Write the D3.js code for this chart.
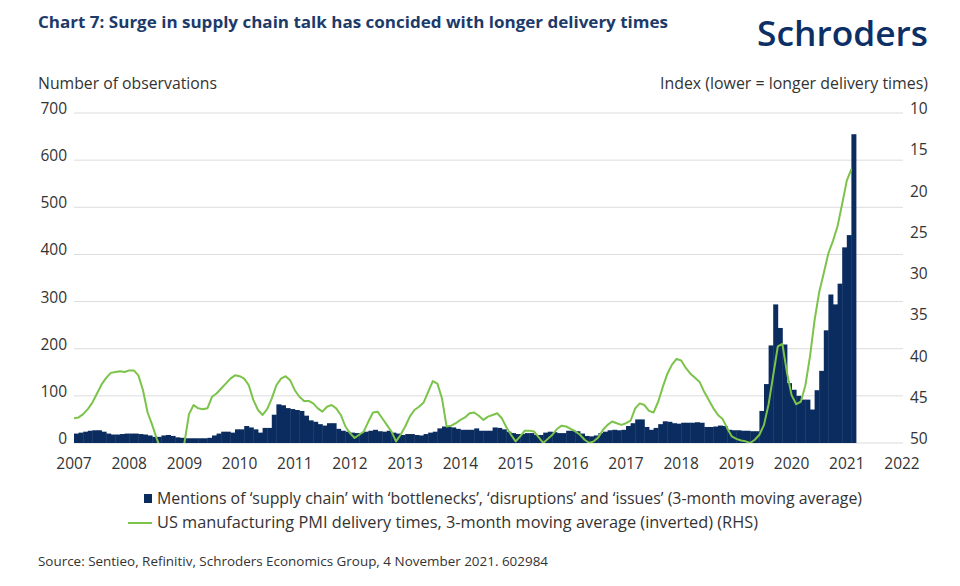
<!DOCTYPE html>
<html>
<head>
<meta charset="utf-8">
<script src="https://cdn.jsdelivr.net/npm/d3@7"></script>
<style>
  body { margin: 0; background: #ffffff; }
  svg { display: block; font-family: 'Open Sans', 'Noto Sans', sans-serif; }
</style>
</head>
<body>
<svg id="chart" width="960" height="586"></svg>
<script>
// Monthly data, Jan 2007 .. Feb 2021
const startYear = 2007;

// Mentions of 'supply chain' with bottlenecks/disruptions/issues (3m avg), LHS
const mentions = [
  20, 22, 24, 26, 27, 27, 24, 20, 18, 18, 19, 20,      // 2007
  20, 20, 19, 18, 16, 13, 13, 16, 17, 15, 12, 11,      // 2008
  10, 10, 10, 10, 10, 11, 16, 20, 24, 24, 22, 29,      // 2009
  29, 36, 33, 29, 22, 32, 32, 60, 82, 80, 74, 72,      // 2010
  70, 68, 58, 48, 45, 40, 37, 42, 42, 30, 26, 24,      // 2011
  22, 21, 21, 24, 26, 28, 25, 24, 26, 22, 20, 17,      // 2012
  19, 19, 17, 16, 19, 22, 24, 31, 35, 34, 33, 30,      // 2013
  28, 28, 28, 31, 26, 26, 26, 33, 32, 29, 24, 21,      // 2014
  19, 19, 21, 21, 17, 17, 22, 24, 23, 21, 21, 26,      // 2015
  26, 25, 20, 15, 14, 16, 21, 24, 27, 28, 27, 28,      // 2016
  36, 42, 50, 50, 34, 28, 32, 40, 46, 45, 42, 41,      // 2017
  43, 43, 43, 44, 43, 34, 34, 35, 37, 36, 28, 27,      // 2018
  27, 26, 26, 25, 25, 68, 125, 207, 294, 244, 209, 127, // 2019
  113, 100, 92, 92, 71, 112, 153, 239, 315, 294, 338, 415, // 2020
  441, 655                                             // 2021
];

// US manufacturing PMI delivery times (3m avg), RHS, inverted
const delivery = [
  47.0, 46.9, 46.5, 45.9, 45.1, 44.0, 42.9, 42.1, 41.5, 41.4, 41.3, 41.4,
  41.2, 41.2, 41.8, 43.6, 46.3, 47.8, 49.5, 51.0, 52.0, 52.5, 52.0, 51.0,
  50.0, 46.5, 45.4, 45.8, 45.9, 45.8, 44.4, 44.0, 43.4, 42.8, 42.2, 41.8,
  41.9, 42.2, 43.0, 44.8, 46.0, 46.6, 45.9, 44.6, 43.0, 42.2, 41.9, 42.4,
  43.6, 44.4, 44.9, 44.9, 45.2, 45.8, 46.2, 45.6, 45.4, 45.8, 46.6, 48.0,
  48.8, 49.4, 49.0, 48.6, 47.4, 46.3, 46.2, 47.0, 47.8, 48.6, 49.8, 49.0,
  48.0, 46.8, 46.0, 45.6, 45.1, 43.8, 42.5, 42.8, 44.6, 48.0, 47.9, 47.6,
  47.2, 46.9, 46.4, 46.3, 46.7, 47.2, 46.8, 46.6, 46.4, 47.0, 48.1, 49.0,
  49.8, 49.2, 48.5, 48.5, 48.6, 49.3, 50.0, 49.5, 49.0, 48.3, 47.9, 48.0,
  48.3, 48.6, 49.0, 49.6, 50.0, 49.8, 49.3, 48.4, 47.8, 47.4, 47.6, 47.8,
  47.6, 47.3, 45.8, 45.2, 45.4, 46.1, 46.3, 45.0, 43.2, 41.6, 40.5, 39.8,
  40.0, 40.9, 41.6, 42.1, 42.6, 43.8, 44.8, 45.8, 46.6, 47.1, 48.2, 49.2,
  49.5, 49.7, 49.8, 50.0, 49.6, 49.0, 47.8, 45.3, 41.8, 38.3, 38.0, 41.5,
  44.2, 45.3, 45.0, 43.0, 39.5, 35.1, 31.7, 29.4, 27.0, 25.5, 23.7, 21.0,
  18.2, 16.8
];

const yearTicks = d3.range(2007, 2023);
const leftTicks = [0, 100, 200, 300, 400, 500, 600, 700];
const rightTicks = [10, 15, 20, 25, 30, 35, 40, 45, 50];

const navy = '#0b2c5f';
const green = '#7cc34a';
const textColor = '#333333';

const svg = d3.select('#chart');

const plot = { left: 74, right: 902, top: 113, bottom: 443 };

const x = d3.scaleLinear().domain([2007, 2022]).range([plot.left, plot.right]);
const yLeft = d3.scaleLinear().domain([0, 700]).range([plot.bottom, plot.top]);
const yRight = d3.scaleLinear().domain([10, 50]).range([plot.top, plot.bottom]);

const monthOf = i => startYear + i / 12;
const barW = x(2007 + 1 / 12) - x(2007);

// helper for text that must span a known width
function fitText(sel, width) {
  return sel.attr('textLength', width).attr('lengthAdjust', 'spacingAndGlyphs');
}

// Title and logo
fitText(svg.append('text')
  .attr('x', 38).attr('y', 28)
  .attr('fill', '#1c3a6a')
  .attr('font-size', 16.5)
  .attr('font-weight', 700)
  .text('Chart 7: Surge in supply chain talk has concided with longer delivery times'), 630);

fitText(svg.append('text')
  .attr('x', 928).attr('y', 46)
  .attr('text-anchor', 'end')
  .attr('fill', '#0c2f66')
  .attr('font-size', 34)
  .attr('font-weight', 600)
  .text('Schroders'), 171);

// Axis titles
fitText(svg.append('text')
  .attr('x', 38).attr('y', 89)
  .attr('fill', textColor).attr('font-size', 15.5)
  .text('Number of observations'), 179);

fitText(svg.append('text')
  .attr('x', 928).attr('y', 89)
  .attr('text-anchor', 'end')
  .attr('fill', textColor).attr('font-size', 15.5)
  .text('Index (lower = longer delivery times)'), 268);

// Gridlines
svg.append('g')
  .selectAll('line')
  .data(leftTicks)
  .join('line')
  .attr('x1', plot.left).attr('x2', plot.right + 1)
  .attr('y1', d => yLeft(d)).attr('y2', d => yLeft(d))
  .attr('stroke', '#dcdcdc')
  .attr('stroke-width', 1);

// Left axis labels
svg.append('g')
  .selectAll('text')
  .data(leftTicks)
  .join('text')
  .attr('x', 67)
  .attr('y', d => yLeft(d) + 1)
  .attr('text-anchor', 'end')
  .attr('fill', textColor).attr('font-size', 15.5)
  .text(d => d);

// Right axis labels
svg.append('g')
  .selectAll('text')
  .data(rightTicks)
  .join('text')
  .attr('x', 910)
  .attr('y', d => yRight(d) + 1)
  .attr('fill', textColor).attr('font-size', 15.5)
  .text(d => d);

// X axis labels
svg.append('g')
  .selectAll('text')
  .data(yearTicks)
  .join('text')
  .attr('x', d => x(d))
  .attr('y', 469)
  .attr('text-anchor', 'middle')
  .attr('fill', textColor).attr('font-size', 15.5)
  .text(d => d);

// Bars
svg.append('g')
  .selectAll('rect')
  .data(mentions)
  .join('rect')
  .attr('x', (d, i) => x(monthOf(i)))
  .attr('width', barW + 0.4)
  .attr('y', d => yLeft(d))
  .attr('height', d => plot.bottom - yLeft(d))
  .attr('fill', navy);

// Line, clipped to plot area
svg.append('clipPath')
  .attr('id', 'plotClip')
  .append('rect')
  .attr('x', plot.left).attr('y', 90)
  .attr('width', plot.right - plot.left)
  .attr('height', plot.bottom - 90);

const line = d3.line()
  .x((d, i) => x(monthOf(i)))
  .y(d => yRight(d));

svg.append('path')
  .datum(delivery)
  .attr('clip-path', 'url(#plotClip)')
  .attr('d', line)
  .attr('fill', 'none')
  .attr('stroke', green)
  .attr('stroke-width', 2)
  .attr('stroke-linejoin', 'round');

// Legend
const legend = svg.append('g');
legend.append('rect')
  .attr('x', 144).attr('y', 494)
  .attr('width', 8).attr('height', 9)
  .attr('fill', navy);
fitText(legend.append('text')
  .attr('x', 157).attr('y', 504)
  .attr('fill', textColor).attr('font-size', 15.5)
  .text('Mentions of \u2018supply chain\u2019 with \u2018bottlenecks\u2019, \u2018disruptions\u2019 and \u2018issues\u2019 (3-month moving average)'), 705);

legend.append('line')
  .attr('x1', 128).attr('x2', 152)
  .attr('y1', 523).attr('y2', 523)
  .attr('stroke', green).attr('stroke-width', 2);
fitText(legend.append('text')
  .attr('x', 157).attr('y', 528)
  .attr('fill', textColor).attr('font-size', 15.5)
  .text('US manufacturing PMI delivery times, 3-month moving average (inverted) (RHS)'), 601);

// Source
fitText(svg.append('text')
  .attr('x', 38).attr('y', 566)
  .attr('fill', textColor).attr('font-size', 13)
  .text('Source: Sentieo, Refinitiv, Schroders Economics Group, 4 November 2021. 602984'), 510);
</script>
</body>
</html>
